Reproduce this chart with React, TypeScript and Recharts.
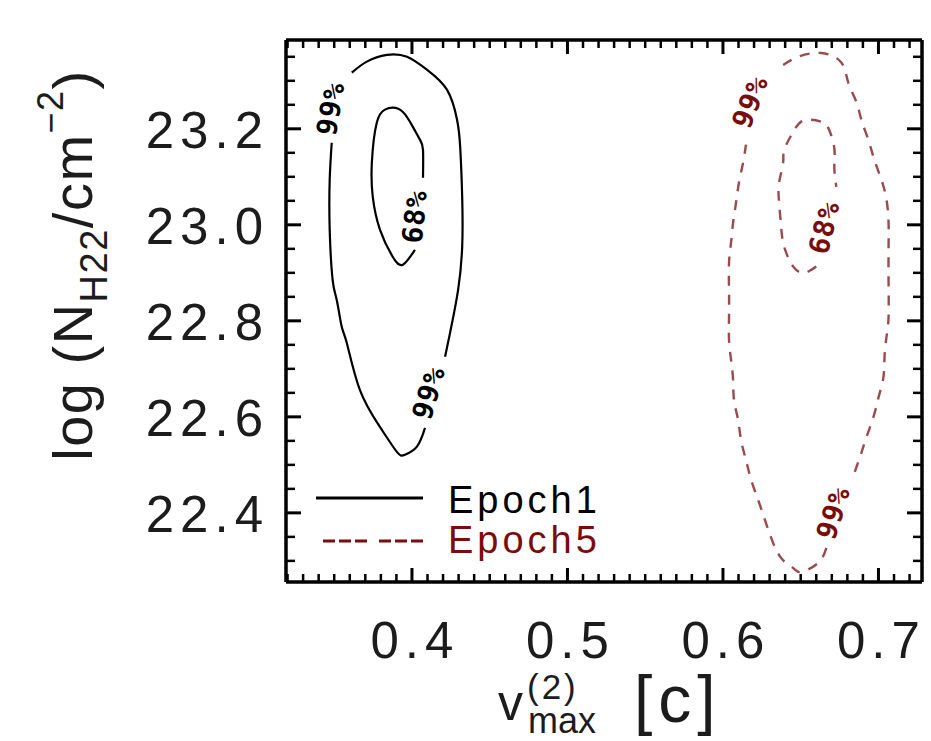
import React from 'react';
import { ComposedChart, Line, Scatter, XAxis, YAxis } from 'recharts';

// Axis ranges and tick definitions
const X_DOMAIN: [number, number] = [0.319, 0.728];
const Y_DOMAIN: [number, number] = [22.256, 23.385];
const X_MAJOR = [0.4, 0.5, 0.6, 0.7];
const X_TICK_LABELS = ['0.4', '0.5', '0.6', '0.7'];
const Y_MAJOR = [22.4, 22.6, 22.8, 23.0, 23.2];
const Y_TICK_LABELS = ['22.4', '22.6', '22.8', '23.0', '23.2'];
const X_MINOR_STEP = 0.01;
const Y_MINOR_STEP = 0.05;

// Epoch 1 confidence contours (solid). Each contour is split where its label sits.
const epoch1Outer99A = [
  { x: 0.3613, y: 23.317 }, { x: 0.3710, y: 23.340 }, { x: 0.3839, y: 23.354 },
  { x: 0.3968, y: 23.350 }, { x: 0.4097, y: 23.323 }, { x: 0.4226, y: 23.281 },
  { x: 0.4290, y: 23.219 }, { x: 0.4310, y: 23.163 }, { x: 0.4323, y: 23.058 },
  { x: 0.4323, y: 22.954 }, { x: 0.4297, y: 22.865 }, { x: 0.4258, y: 22.796 },
  { x: 0.4245, y: 22.775 }, { x: 0.4213, y: 22.725 },
];
const epoch1Outer99B = [
  { x: 0.4084, y: 22.577 }, { x: 0.4032, y: 22.538 }, { x: 0.3955, y: 22.521 },
  { x: 0.3903, y: 22.527 }, { x: 0.3794, y: 22.579 }, { x: 0.3665, y: 22.656 },
  { x: 0.3581, y: 22.754 }, { x: 0.3548, y: 22.788 }, { x: 0.3516, y: 22.844 },
  { x: 0.3490, y: 22.885 }, { x: 0.3471, y: 22.990 }, { x: 0.3471, y: 23.094 },
  { x: 0.3484, y: 23.171 },
];
const epoch1Inner68 = [
  { x: 0.4019, y: 22.948 }, { x: 0.3942, y: 22.917 }, { x: 0.3877, y: 22.933 },
  { x: 0.3794, y: 22.990 }, { x: 0.3748, y: 23.058 }, { x: 0.3742, y: 23.129 },
  { x: 0.3774, y: 23.213 }, { x: 0.3826, y: 23.240 }, { x: 0.3877, y: 23.244 },
  { x: 0.3942, y: 23.235 }, { x: 0.4006, y: 23.204 }, { x: 0.4052, y: 23.177 },
  { x: 0.4071, y: 23.156 }, { x: 0.4071, y: 23.098 },
];

// Epoch 5 confidence contours (dashed)
const epoch5Outer99A = [
  { x: 0.6387, y: 23.333 }, { x: 0.6484, y: 23.350 }, { x: 0.6632, y: 23.358 },
  { x: 0.6761, y: 23.338 }, { x: 0.6806, y: 23.296 }, { x: 0.6858, y: 23.256 },
  { x: 0.6890, y: 23.219 }, { x: 0.6935, y: 23.177 }, { x: 0.6974, y: 23.135 },
  { x: 0.7019, y: 23.094 }, { x: 0.7052, y: 23.052 }, { x: 0.7065, y: 23.004 },
  { x: 0.7065, y: 22.954 }, { x: 0.7065, y: 22.879 }, { x: 0.7065, y: 22.808 },
  { x: 0.7052, y: 22.767 }, { x: 0.7039, y: 22.725 }, { x: 0.7032, y: 22.683 },
  { x: 0.7000, y: 22.640 }, { x: 0.6968, y: 22.600 }, { x: 0.6923, y: 22.558 },
  { x: 0.6890, y: 22.525 }, { x: 0.6845, y: 22.483 },
];
const epoch5Outer99B = [
  { x: 0.6665, y: 22.327 }, { x: 0.6613, y: 22.296 }, { x: 0.6503, y: 22.277 },
  { x: 0.6452, y: 22.285 }, { x: 0.6374, y: 22.306 }, { x: 0.6310, y: 22.348 },
  { x: 0.6265, y: 22.390 }, { x: 0.6226, y: 22.427 }, { x: 0.6181, y: 22.469 },
  { x: 0.6148, y: 22.510 }, { x: 0.6116, y: 22.552 }, { x: 0.6097, y: 22.594 },
  { x: 0.6071, y: 22.635 }, { x: 0.6065, y: 22.677 }, { x: 0.6052, y: 22.719 },
  { x: 0.6039, y: 22.760 }, { x: 0.6039, y: 22.808 }, { x: 0.6039, y: 22.865 },
  { x: 0.6039, y: 22.921 }, { x: 0.6052, y: 22.963 }, { x: 0.6065, y: 23.004 },
  { x: 0.6084, y: 23.046 }, { x: 0.6103, y: 23.088 }, { x: 0.6129, y: 23.129 },
  { x: 0.6148, y: 23.167 },
];
const epoch5Inner68 = [
  { x: 0.6600, y: 22.913 }, { x: 0.6523, y: 22.900 }, { x: 0.6452, y: 22.913 },
  { x: 0.6394, y: 22.954 }, { x: 0.6374, y: 22.996 }, { x: 0.6361, y: 23.046 },
  { x: 0.6361, y: 23.088 }, { x: 0.6387, y: 23.129 }, { x: 0.6394, y: 23.156 },
  { x: 0.6452, y: 23.194 }, { x: 0.6503, y: 23.215 }, { x: 0.6568, y: 23.219 },
  { x: 0.6632, y: 23.215 }, { x: 0.6677, y: 23.202 }, { x: 0.6716, y: 23.160 },
  { x: 0.6716, y: 23.121 }, { x: 0.6729, y: 23.079 },
];

// Contour level tags placed along the curves
const epoch1Tags = [
  { x: 0.3478, y: 23.242, text: '99%', angle: 80 },
  { x: 0.4019, y: 23.017, text: '68%', angle: 84 },
  { x: 0.4109, y: 22.650, text: '99%', angle: 73 },
];
const epoch5Tags = [
  { x: 0.6176, y: 23.256, text: '99%', angle: 69 },
  { x: 0.6653, y: 22.994, text: '68%', angle: 76 },
  { x: 0.6711, y: 22.400, text: '99%', angle: 72 },
];

const EPOCH1_COLOR = '#000000';
const EPOCH5_COLOR = '#7a0c0c';
const TICK_FONT = '"Liberation Sans", Arial, sans-serif';

const stepTicks = (lo: number, hi: number, step: number) => {
  const out: number[] = [];
  const start = Math.ceil(lo / step - 1e-9);
  const end = Math.floor(hi / step + 1e-9);
  for (let i = start; i <= end; i++) out.push(Math.round(i * step * 1000) / 1000);
  return out;
};
const X_TICKS = stepTicks(X_DOMAIN[0], X_DOMAIN[1], X_MINOR_STEP);
const Y_TICKS = stepTicks(Y_DOMAIN[0], Y_DOMAIN[1], Y_MINOR_STEP);

const majorIndex = (v: number, majors: number[]) =>
  majors.findIndex((m) => Math.abs(m - v) < 1e-6);

const MAJOR_LEN = 14;
const MINOR_LEN = 8;

const BottomTick = (props: any) => {
  const { x, y, payload } = props;
  const idx = majorIndex(payload.value, X_MAJOR);
  const major = idx >= 0;
  return (
    <g>
      <line x1={x} y1={y} x2={x} y2={y - (major ? MAJOR_LEN : MINOR_LEN)} stroke="#000" strokeWidth={major ? 3 : 2.5} />
      {major && (
        <text x={x + 3} y={y + 76} textAnchor="middle" fontFamily={TICK_FONT} fontSize={51} letterSpacing={6} fill="#1c1c1c">
          {X_TICK_LABELS[idx]}
        </text>
      )}
    </g>
  );
};

const TopTick = (props: any) => {
  const { x, y, payload } = props;
  const major = majorIndex(payload.value, X_MAJOR) >= 0;
  return <line x1={x} y1={y} x2={x} y2={y + (major ? MAJOR_LEN : MINOR_LEN)} stroke="#000" strokeWidth={major ? 3 : 2.5} />;
};

const LeftTick = (props: any) => {
  const { x, y, payload } = props;
  const idx = majorIndex(payload.value, Y_MAJOR);
  const major = idx >= 0;
  return (
    <g>
      <line x1={x} y1={y} x2={x + (major ? MAJOR_LEN + 1 : MINOR_LEN + 1)} y2={y} stroke="#000" strokeWidth={major ? 3 : 2.5} />
      {major && (
        <text x={x - 17} y={y + 19} textAnchor="end" fontFamily={TICK_FONT} fontSize={51} letterSpacing={6} fill="#1c1c1c">
          {Y_TICK_LABELS[idx]}
        </text>
      )}
    </g>
  );
};

const RightTick = (props: any) => {
  const { x, y, payload } = props;
  const major = majorIndex(payload.value, Y_MAJOR) >= 0;
  return <line x1={x} y1={y} x2={x - (major ? MAJOR_LEN + 1 : MINOR_LEN + 1)} y2={y} stroke="#000" strokeWidth={major ? 3 : 2.5} />;
};

const ContourTag = (props: any) => {
  const { cx, cy, payload, fill } = props;
  if (cx == null || cy == null) return null;
  return (
    <text
      x={cx}
      y={cy}
      transform={`rotate(${-payload.angle} ${cx} ${cy})`}
      textAnchor="middle"
      dominantBaseline="central"
      fontFamily='"DejaVu Sans Mono", monospace'
      fontWeight="bold"
      fontSize={28}
      letterSpacing={1}
      fill={fill}
    >
      {payload.text}
    </text>
  );
};

const axisLine = { stroke: '#000', strokeWidth: 3.5 };

export default function App() {
  return (
    <div style={{ position: 'absolute', left: 0, top: 0, width: 931, height: 741, background: '#fff' }}>
      <ComposedChart width={931} height={741} margin={{ top: 39, right: 8, bottom: 0, left: 0 }}>
        <XAxis
          xAxisId="bottom"
          type="number"
          dataKey="x"
          domain={X_DOMAIN}
          allowDataOverflow
          ticks={X_TICKS}
          interval={0}
          orientation="bottom"
          height={159}
          tickSize={0}
          tickMargin={0}
          tickLine={false}
          axisLine={axisLine}
          tick={<BottomTick />}
        />
        <XAxis
          xAxisId="top"
          type="number"
          dataKey="x"
          domain={X_DOMAIN}
          allowDataOverflow
          ticks={X_TICKS}
          interval={0}
          orientation="top"
          height={1}
          tickSize={0}
          tickMargin={0}
          tickLine={false}
          axisLine={axisLine}
          tick={<TopTick />}
        />
        <YAxis
          yAxisId="left"
          type="number"
          domain={Y_DOMAIN}
          allowDataOverflow
          ticks={Y_TICKS}
          interval={0}
          orientation="left"
          width={286}
          tickSize={0}
          tickMargin={0}
          tickLine={false}
          axisLine={axisLine}
          tick={<LeftTick />}
        />
        <YAxis
          yAxisId="right"
          type="number"
          domain={Y_DOMAIN}
          allowDataOverflow
          ticks={Y_TICKS}
          interval={0}
          orientation="right"
          width={1}
          tickSize={0}
          tickMargin={0}
          tickLine={false}
          axisLine={axisLine}
          tick={<RightTick />}
        />

        {[epoch1Outer99A, epoch1Outer99B, epoch1Inner68].map((seg, i) => (
          <Line
            key={`e1-${i}`}
            xAxisId="bottom"
            yAxisId="left"
            data={seg}
            dataKey="y"
            type="natural"
            stroke={EPOCH1_COLOR}
            strokeWidth={2.2}
            dot={false}
            activeDot={false}
            isAnimationActive={false}
          />
        ))}
        {[epoch5Outer99A, epoch5Outer99B, epoch5Inner68].map((seg, i) => (
          <Line
            key={`e5-${i}`}
            xAxisId="top"
            yAxisId="right"
            data={seg}
            dataKey="y"
            type="natural"
            stroke="#8a2a30"
            strokeOpacity={0.85}
            strokeWidth={2.4}
            strokeDasharray="10 9"
            dot={false}
            activeDot={false}
            isAnimationActive={false}
          />
        ))}
        <Scatter
          xAxisId="bottom"
          yAxisId="left"
          data={epoch1Tags}
          dataKey="y"
          fill={EPOCH1_COLOR}
          shape={<ContourTag />}
          isAnimationActive={false}
        />
        <Scatter
          xAxisId="top"
          yAxisId="right"
          data={epoch5Tags}
          dataKey="y"
          fill={EPOCH5_COLOR}
          shape={<ContourTag />}
          isAnimationActive={false}
        />
      </ComposedChart>

      {/* axis titles and legend */}
      <svg width={931} height={741} style={{ position: 'absolute', left: 0, top: 0, pointerEvents: 'none' }}>
        <g fontFamily={TICK_FONT} fill="#1c1c1c">
          <text x={498} y={720} fontSize={50}>v</text>
          <text x={527} y={699} fontSize={35} letterSpacing={3}>(2)</text>
          <text x={528} y={733} fontSize={36}>max</text>
          <text x={634} y={722} fontSize={66} letterSpacing={6}>[c]</text>
          <text transform="translate(92,265) rotate(-90)" textAnchor="middle" fontSize={56} letterSpacing={1.5}>
            log (N
            <tspan fontSize={38} dy={15}>H22</tspan>
            <tspan dy={-15}>/cm</tspan>
            <tspan fontSize={36} dy={-29}>−2</tspan>
            <tspan dy={29}>)</tspan>
          </text>
        </g>
        <g fontFamily={TICK_FONT} fontSize={38} letterSpacing={4}>
          <line x1={316} y1={498} x2={423} y2={498} stroke={EPOCH1_COLOR} strokeWidth={3} />
          <text x={448} y={513} fill={EPOCH1_COLOR}>Epoch1</text>
          <line x1={323} y1={541} x2={423} y2={541} stroke={EPOCH5_COLOR} strokeWidth={3} strokeDasharray="12 4 12 4 12 12" />
          <text x={448} y={553} fill={EPOCH5_COLOR}>Epoch5</text>
        </g>
      </svg>
    </div>
  );
}
